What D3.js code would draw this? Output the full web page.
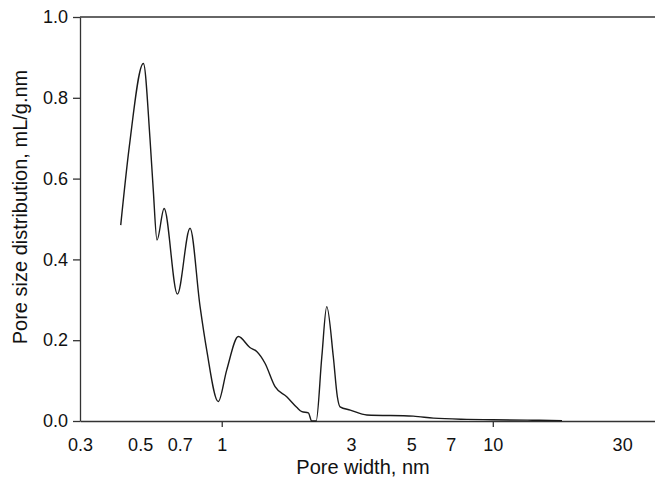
<!DOCTYPE html>
<html>
<head>
<meta charset="utf-8">
<script src="https://cdn.jsdelivr.net/npm/d3@7"></script>
<style>
  body { margin: 0; background: #fff; }
  svg { display: block; font-family: "Liberation Sans", Arial, sans-serif; }
</style>
</head>
<body>
<div id="chart"></div>
<script>
const width = 655;
const height = 477;
const margin = {left: 80, top: 17, bottom: 56};

// pore width (nm) and distribution (mL/g.nm)
const poreWidth = [0.424, 0.456, 0.514, 0.544, 0.559, 0.577, 0.613, 0.686, 0.764, 0.832, 0.88, 0.971,
                   1.043, 1.152, 1.27, 1.346, 1.444, 1.573, 1.737, 1.89, 1.975, 2.087, 2.148, 2.23,
                   2.34, 2.44, 2.58, 2.67, 2.732, 2.98, 3.43, 5.09, 6.04, 8.02, 10, 14, 18];
const psd = [0.485, 0.679, 0.885, 0.696, 0.572, 0.448, 0.526, 0.314, 0.477, 0.283, 0.176, 0.048,
             0.126, 0.209, 0.182, 0.172, 0.143, 0.085, 0.06, 0.034, 0.023, 0.02, 0.0, 0.0,
             0.159, 0.283, 0.159, 0.06, 0.035, 0.027, 0.015, 0.012, 0.007, 0.004, 0.003, 0.002, 0.001];

const xTicks = [0.3, 0.5, 0.7, 1, 3, 5, 7, 10, 30];
const yTicks = [0, 0.2, 0.4, 0.6, 0.8, 1.0];

const svg = d3.select('#chart')
  .append('svg')
  .attr('width', width)
  .attr('height', height);

const x = d3.scaleLog()
  .domain([0.3, 40])
  .range([margin.left, 656]);

const y = d3.scaleLinear()
  .domain([0, 1])
  .range([height - margin.bottom, margin.top]);

// x axis, only 1 and 10 get a tick mark
const xAxis = svg.append('g')
  .attr('transform', 'translate(0,' + y(0) + ')')
  .call(d3.axisBottom(x)
    .tickValues(xTicks)
    .tickFormat(d => d)
    .tickSize(6)
    .tickPadding(11)
    .tickSizeOuter(0));
xAxis.selectAll('.tick line')
  .attr('y2', d => (d === 1 || d === 10) ? 6 : 0);

// y axis
svg.append('g')
  .attr('transform', 'translate(' + margin.left + ',0)')
  .call(d3.axisLeft(y)
    .tickValues(yTicks)
    .tickFormat(d3.format('.1f'))
    .tickSize(7)
    .tickPadding(5)
    .tickSizeOuter(0));

svg.selectAll('.domain, .tick line').attr('stroke', '#333').attr('stroke-width', 1.3);
svg.selectAll('.tick text').attr('fill', '#111').style('font-size', '18px');

// top frame line
svg.append('line')
  .attr('x1', margin.left).attr('x2', width)
  .attr('y1', y(1)).attr('y2', y(1))
  .attr('stroke', '#333').attr('stroke-width', 1.3);

// curve
const pts = poreWidth.map((d, i) => [d, psd[i]]);
svg.append('path')
  .datum(pts)
  .attr('fill', 'none')
  .attr('stroke', '#1a1a1a')
  .attr('stroke-width', 1.4)
  .attr('d', d3.line()
    .x(d => x(d[0]))
    .y(d => y(d[1]))
    .curve(d3.curveMonotoneX));

// titles
svg.append('text')
  .attr('x', 363)
  .attr('y', 474)
  .attr('text-anchor', 'middle')
  .style('font-size', '20px')
  .attr('fill', '#111')
  .text('Pore width, nm');

svg.append('text')
  .attr('transform', 'rotate(-90)')
  .attr('x', -207)
  .attr('y', 27)
  .attr('text-anchor', 'middle')
  .style('font-size', '20px')
  .attr('fill', '#111')
  .text('Pore size distribution, mL/g.nm');
</script>
</body>
</html>
